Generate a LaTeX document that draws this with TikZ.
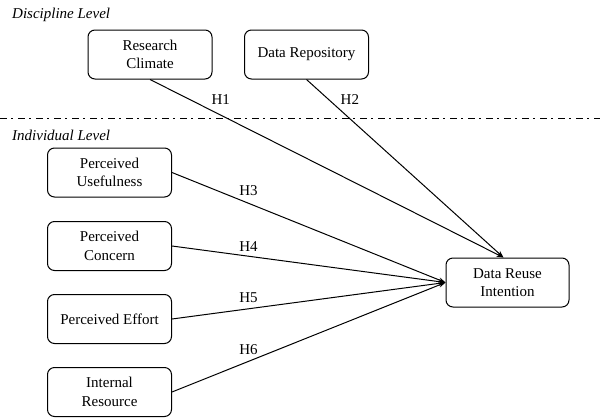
\documentclass[tikz,border=0pt]{standalone}
\usepackage{fontspec}
\setmainfont{Liberation Serif}
\usepackage{tikz}
\usetikzlibrary{arrows.meta}

\begin{document}
\begin{tikzpicture}[x=1pt,y=-1pt,
    factor/.style={draw, line width=1pt, rounded corners=7pt, align=center,
      minimum width=124pt, minimum height=49pt, inner sep=2pt, font=\fontsize{15}{18.3}\selectfont},
    hyp/.style={-{Stealth[length=7pt,width=5pt]}, line width=1pt},
    hlabel/.style={inner sep=0pt, font=\fontsize{15}{18}\selectfont},
    level/.style={anchor=west, inner sep=0pt, font=\fontsize{15}{18}\selectfont\itshape}]
    \useasboundingbox (0,0) rectangle (600,418);
    \node[level] (disc) at (12,15) {Discipline Level};
    \node[level] (indiv) at (12,135) {Individual Level};
    \draw[line width=1pt, dash pattern=on 7pt off 4pt on 2pt off 5pt] (0,118) -- (600,118);
    \node[factor] (climate) at (150,54.5) {Research\\Climate};
    \node[factor] (repo) at (306.5,54.5) {Data Repository};
    \node[factor] (useful) at (109.5,172.5) {Perceived\\Usefulness};
    \node[factor] (concern) at (109.5,246) {Perceived\\Concern};
    \node[factor] (effort) at (109.5,319) {Perceived Effort};
    \node[factor] (resource) at (109.5,392) {Internal\\Resource};
    \node[factor, minimum width=123pt] (reuse) at (507.5,282.5) {Data Reuse\\Intention};
    \coordinate (top) at ([xshift=-4pt]reuse.north);
    \draw[hyp] (climate.south) -- node[hlabel, pos=.2, above=10pt] {H1} (top);
    \draw[hyp] (repo.south) -- node[hlabel, pos=.22, above=13.5pt] {H2} (top);
    \draw[hyp] (useful.east) -- node[hlabel, pos=.28, above=7pt] {H3} (reuse.west);
    \draw[hyp] (concern.east) -- node[hlabel, pos=.28, above=4pt] {H4} (reuse.west);
    \draw[hyp] (effort.east) -- node[hlabel, pos=.28, above=5.5pt] {H5} (reuse.west);
    \draw[hyp] (resource.east) -- node[hlabel, pos=.28, above=6.5pt] {H6} (reuse.west);
\end{tikzpicture}
\end{document}
